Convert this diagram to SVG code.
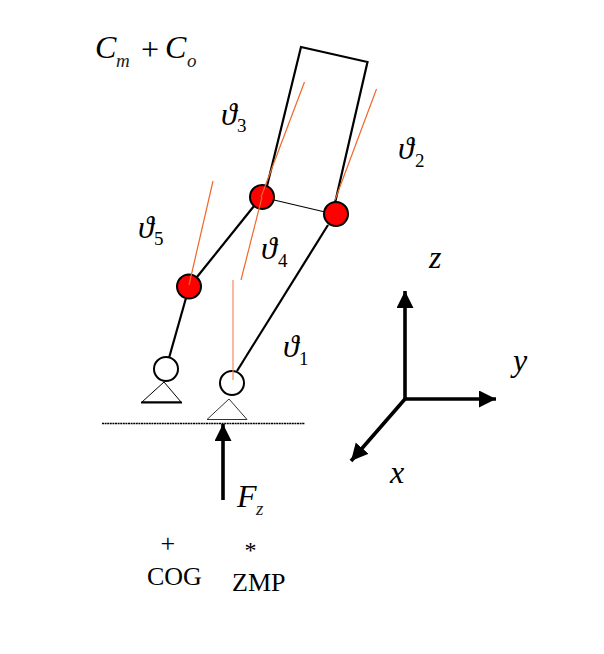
<svg xmlns="http://www.w3.org/2000/svg" width="604" height="654" viewBox="0 0 604 654">
<style>
.t{font-family:"Liberation Serif",serif;fill:#000}
.i{font-style:italic;font-size:32px}
.s{font-style:italic;font-size:19px;fill:#222}
.n{font-size:19px}
.l{font-size:26px}
.b{fill:none;stroke:#000;stroke-width:2.200}
.o{fill:none;stroke:#f0682a;stroke-width:1.200}
.j{fill:#f00;stroke:#000;stroke-width:2}
.w{fill:#fff;stroke:#000;stroke-width:2}
.a{fill:none;stroke:#000;stroke-width:3.600}
</style>
<defs><marker id="ah" markerUnits="userSpaceOnUse" markerWidth="18" markerHeight="18" refX="17" refY="8.500" orient="auto"><path d="M0 0L17 8.500L0 17Z" fill="#000"/></marker></defs>
<rect width="604" height="654" fill="#fff"/>
<g id="connectors">
<path class="b" d="M267 186L301 47L367.500 62L335 203"/>
<path class="b" d="M254 206L197 277"/>
<path class="b" d="M186 298L169 358"/>
<path class="b" d="M328 225L237 371"/>
<path d="M274 200L325 212" fill="none" stroke="#000" stroke-width="1.200"/>
<path d="M102 423.500H305" fill="none" stroke="#000" stroke-width="1.300" stroke-dasharray="2 .6"/>
<path class="a" d="M223 500V424" marker-end="url(#ah)"/>
<path class="a" d="M405 399V291" marker-end="url(#ah)"/>
<path class="a" d="M405 399H496" marker-end="url(#ah)"/>
<path class="a" d="M405 399L351 461" marker-end="url(#ah)"/>
</g>
<g id="support-left"><path d="M164 382L142 402H181Z" fill="#fff" stroke="#000" stroke-width="1"/><path d="M141 402.500H182" stroke="#000" stroke-width="2.200"/></g>
<g id="support-right"><path d="M229 399L207 419.500H247Z" fill="#fff" stroke="#333" stroke-width="1"/></g>
<g id="joint-foot-left"><circle class="w" cx="166" cy="369" r="12"/></g>
<g id="joint-foot-right"><circle class="w" cx="232" cy="383" r="12"/></g>
<g id="joint-knee"><circle class="j" cx="189" cy="286.500" r="12"/></g>
<g id="joint-hip-left"><circle class="j" cx="262" cy="197" r="12"/></g>
<g id="joint-hip-right"><circle class="j" cx="336" cy="214" r="12"/></g>
<g id="reference-lines">
<path class="o" d="M304.500 82L261 197"/>
<path class="o" d="M376.500 89L335 200"/>
<path class="o" d="M213 181L189 285"/>
<path class="o" d="M262 197L241 280"/>
<path d="M233 280V380" fill="none" stroke="#f58a60" stroke-width="1.200"/>
</g>
<g id="labels">
<text class="t i" x="95" y="58">C</text><text class="t s" x="116" y="66.500">m</text>
<text class="t" x="141" y="60" font-size="32">+</text>
<text class="t i" x="165" y="58">C</text><text class="t s" x="187" y="66.500">o</text>
<text class="t i" x="221" y="125">ϑ</text><text class="t n" x="237" y="132">3</text>
<text class="t i" x="398" y="159">ϑ</text><text class="t n" x="415" y="167">2</text>
<text class="t i" x="138" y="238">ϑ</text><text class="t n" x="154" y="245">5</text>
<text class="t i" x="261" y="259">ϑ</text><text class="t n" x="278" y="267">4</text>
<text class="t i" x="283" y="357">ϑ</text><text class="t n" x="299" y="365">1</text>
<text class="t i" x="429" y="268">z</text>
<text class="t i" x="513" y="371">y</text>
<text class="t i" x="390" y="483">x</text>
<text class="t i" x="237" y="507">F</text><text class="t s" x="256" y="515">z</text>
<text class="t" x="160.500" y="552" font-size="26">+</text>
<text class="t" x="244.500" y="558" font-size="24">*</text>
<text class="t l" x="147" y="585">COG</text>
<text class="t l" x="232" y="590.500">ZMP</text>
</g>
</svg>
